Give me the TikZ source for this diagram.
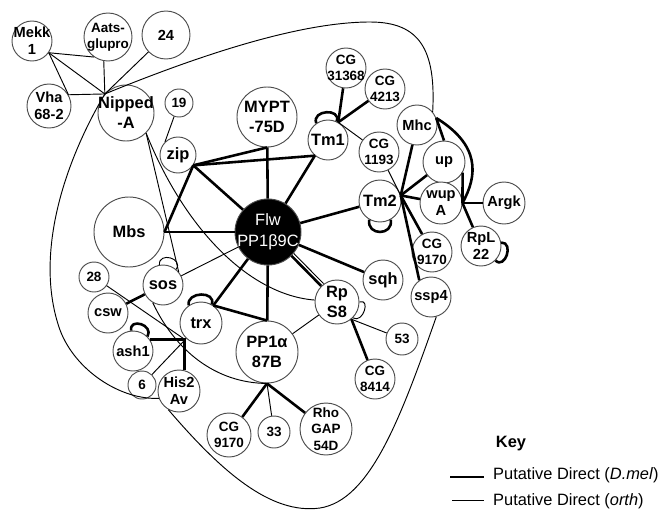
\documentclass[tikz,border=0pt]{standalone}
\usepackage{fontspec}
\setmainfont{Liberation Sans}
\usepackage{xcolor}

\begin{document}
\begin{tikzpicture}[x=0.3mm,y=-0.3mm,
	gene/.style={circle,draw=black!70,fill=white,line width=0.8pt,inner sep=0pt,minimum size=#1*0.6mm},
	tag/.style={align=center,inner sep=0pt,font=\bfseries\fontsize{12.5}{14.5}\selectfont},
	bigtag/.style={tag,font=\bfseries\fontsize{14}{17}\selectfont},
	smalltag/.style={tag,font=\bfseries\fontsize{11.5}{13.5}\selectfont},
	dmel/.style={line width=2.2pt},
	orth/.style={line width=0.8pt}]
	\useasboundingbox (0,0) rectangle (667,511);

	\node[gene=20,label={[tag]center:Mekk\\1}] (Mekk) at (32,41) {};
	\node[gene=24,label={[smalltag]center:Aats-\\glupro}] (Aats) at (108,37) {};
	\node[gene=24,label={[tag]center:24}] (n24) at (166,35) {};
	\node[gene=22,label={[tag]center:Vha\\68-2}] (Vha) at (49,106) {};
	\node[gene=28,label={[bigtag]center:Nipped\\-A}] (NipA) at (126,113) {};
	\node[gene=14,label={[smalltag]center:19}] (n19) at (179,103) {};
	\node[gene=18,label={[bigtag]center:zip}] (zip) at (178,155) {};
	\node[gene=30,label={[bigtag]center:MYPT\\-75D}] (MYPT) at (267,117) {};
	\node[gene=33,fill=black,label={[tag,text=white,font=\fontsize{14}{18}\selectfont]center:Flw\\PP1β9C}] (Flw) at (268,232) {};
	\node[gene=20,label={[bigtag]center:Tm1}] (Tm1) at (328,140) {};
	\node[gene=20,label={[smalltag]center:CG\\31368}] (CGa) at (346,68) {};
	\node[gene=20,label={[smalltag]center:CG\\4213}] (CGb) at (385,89) {};
	\node[gene=20,label={[smalltag]center:CG\\1193}] (CGc) at (379,152) {};
	\node[gene=20,label={[tag]center:Mhc}] (Mhc) at (417,125) {};
	\node[gene=21,label={[tag]center:up}] (up) at (444,162) {};
	\node[gene=21,label={[bigtag]center:Tm2}] (Tm2) at (380,201) {};
	\node[gene=21,label={[tag]center:wup\\A}] (wupA) at (441,203) {};
	\node[gene=21,label={[tag]center:Argk}] (Argk) at (504,203) {};
	\node[gene=20,label={[tag]center:RpL\\22}] (RpL) at (481,246) {};
	\node[gene=20,label={[smalltag]center:CG\\9170}] (CGd) at (432,252) {};
	\node[gene=20,label={[bigtag]center:sqh}] (sqh) at (383,280) {};
	\node[gene=20,label={[tag]center:ssp4}] (ssp4) at (431,297) {};
	\node[gene=35,label={[bigtag]center:Mbs}] (Mbs) at (129,232) {};
	\node[gene=15,label={[smalltag]center:28}] (n28) at (94,277) {};
	\node[gene=20,label={[bigtag]center:sos}] (sos) at (163,285) {};
	\node[gene=20,label={[tag]center:csw}] (csw) at (108,313) {};
	\node[gene=21,label={[bigtag]center:trx}] (trx) at (201,323) {};
	\node[gene=22,label={[bigtag]center:Rp\\S8}] (RpS8) at (337,302) {};
	\node[gene=31,label={[bigtag]center:PP1α\\87B}] (PP1a) at (267,352) {};
	\node[gene=20,label={[tag]center:ash1}] (ash1) at (133,351) {};
	\node[gene=14,label={[smalltag]center:6}] (n6) at (142,385) {};
	\node[gene=21,label={[tag]center:His2\\Av}] (His) at (179,391) {};
	\node[gene=16,label={[smalltag]center:53}] (n53) at (402,339) {};
	\node[gene=20,label={[smalltag]center:CG\\8414}] (CGe) at (375,379) {};
	\node[gene=22,label={[smalltag]center:CG\\9170}] (CGf) at (229,435) {};
	\node[gene=16,label={[smalltag]center:33}] (n33) at (274,432) {};
	\node[gene=26,label={[smalltag,font=\bfseries\fontsize{11.5}{14}\selectfont]center:Rho\\GAP\\54D}] (Rho) at (326,429) {};

	\coordinate (hubA) at (NipA.138);
	\coordinate (hubB) at (NipA.-45);
	\coordinate (hubR) at (wupA.east);
	\coordinate (corner) at (His.75 |- ash1.35);

	\draw[orth] (Mekk.-35) -- (hubA);
	\draw[orth] (Mekk.-35) -- (Aats.-125);
	\draw[orth] (Mekk.-35) -- (Vha.30);
	\draw[orth] (Aats.-100) -- (hubA);
	\draw[orth] (n24) -- (hubA);
	\draw[orth] (Vha.30) -- (hubA);
	\draw[orth] (n19) -- (zip.135);
	\draw[orth] (hubB) -- (sos.40);
	\draw[orth] (hubB) .. controls (185,230) and (250,295) .. (RpS8.175);
	\draw[orth] (hubA) .. controls (200,55) and (300,22) .. (370,22) .. controls (420,22) and (436,50) .. (Mhc.40);
	\draw[orth] (hubA) .. controls (60,170) and (35,260) .. (60,330) .. controls (75,370) and (120,400) .. (His.200);
	\draw[orth] (His.240) .. controls (220,470) and (270,515) .. (320,508) .. controls (370,500) and (400,420) .. (ssp4.-75);
	\draw[orth] (sos) -- (Flw);
	\draw[orth] (sos.-120) .. controls (175,350) and (215,383) .. (PP1a.south);
	\draw[orth] (n28) -- (corner);
	\draw[orth] (n6) -- (trx);
	\draw[orth] (RpS8) -- (PP1a);
	\draw[orth] (RpS8.-50) -- (n53);
	\draw[orth] (Tm1.60) -- (CGc);
	\draw[orth] (CGc) -- (Tm2.15);
	\draw[orth] (PP1a.south) -- (n33);
	\draw[orth,transform canvas={shift={(2pt,2pt)}}] (Flw) -- (RpS8);

	\draw[dmel] (zip.-34) -- (Mbs.east);
	\draw[dmel] (zip.-34) -- (Flw);
	\draw[dmel] (zip.-34) -- (MYPT.south);
	\draw[dmel] (zip.-34) -- (Tm1.-130);
	\draw[dmel] (Mbs.east) -- (Flw);
	\draw[dmel] (MYPT) -- (Flw);
	\draw[dmel] (Tm1.-130) -- (Flw);
	\draw[dmel] (Tm1.60) -- (CGa);
	\draw[dmel] (Tm1.60) -- (CGb);
	\draw[dmel] (Flw) -- (Tm2);
	\draw[dmel] (Tm2.15) -- (Mhc);
	\draw[dmel] (Tm2.15) -- (up);
	\draw[dmel] (Tm2.15) -- (wupA);
	\draw[dmel] (Tm2.15) -- (CGd);
	\draw[dmel] (Tm2.15) -- (ssp4.125);
	\draw[dmel] (Mhc.20) -- (up.north);
	\draw[dmel] (Mhc.20) .. controls (480,145) and (478,175) .. (hubR);
	\draw[dmel] (up.-30) -- (hubR);
	\draw[dmel] (wupA) -- (Argk);
	\draw[dmel] (hubR) -- (RpL);
	\draw[dmel] (Flw) -- (sqh);
	\draw[dmel] (Flw) -- (trx.55);
	\draw[dmel] (trx.55) -- (PP1a.north);
	\draw[dmel] (Flw) -- (PP1a);
	\draw[dmel] (Flw) -- (RpS8);
	\draw[dmel] (csw) -- (sos);
	\draw[dmel] (ash1.35) -| (His.75);
	\draw[dmel] (RpS8.-50) -- (CGe);
	\draw[dmel] (PP1a.south) -- (CGf);
	\draw[dmel] (PP1a.south) -- (Rho);

	\draw[dmel] (Tm1.125) to[out=110,in=70,looseness=1.8] (Tm1.65);
	\draw[dmel] (Tm2.-120) to[out=-100,in=-80,looseness=2] (Tm2.-60);
	\draw[dmel] (RpL.10) to[out=0,in=-45,looseness=1.8] (RpL.-45);
	\draw[dmel] (ash1.95) to[out=100,in=60,looseness=2] (ash1.45);
	\draw[dmel] (trx.125) to[out=100,in=70,looseness=1.6] (trx.60);
	\draw[orth] (sos.100) to[out=95,in=55,looseness=2] (sos.50);
	\draw[orth] (RpS8.0) to[out=20,in=-30,looseness=1.8] (RpS8.-45);

	\node[font=\bfseries\fontsize{14}{14}\selectfont] (key) at (511,444) {Key};
	\coordinate (k1) at (450,477);
	\coordinate (k2) at (484,477);
	\coordinate (k3) at (452,500);
	\coordinate (k4) at (484,500);
	\draw[dmel] (k1) -- (k2);
	\draw[orth] (k3) -- (k4);
	\node[anchor=west,inner sep=0pt,font=\fontsize{14}{14}\selectfont] (kdmel) at (493,475) {Putative Direct (\textit{D.mel})};
	\node[anchor=west,inner sep=0pt,font=\fontsize{14}{14}\selectfont] (korth) at (493,501) {Putative Direct (\textit{orth})};
\end{tikzpicture}
\end{document}
